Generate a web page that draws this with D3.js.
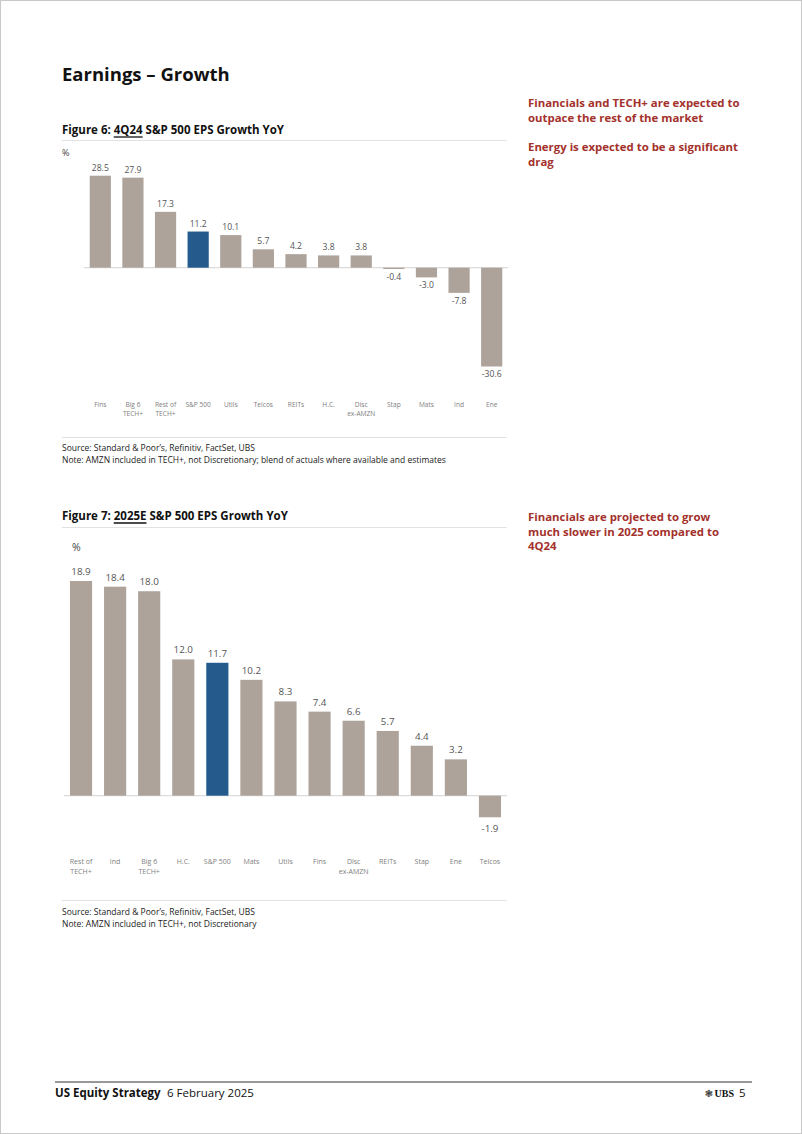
<!DOCTYPE html>
<html lang="en">
<head>
<meta charset="utf-8" />
<title>Earnings - Growth</title>
<style>
	* {margin: 0; padding: 0;}
	body {background: #fff; width: 802px; height: 1134px; overflow: hidden;}
	svg {display: block;}
	text {font-family: "Open Sans", "Noto Sans", Helvetica, Arial, sans-serif;}
</style>
<script src="https://cdn.jsdelivr.net/npm/d3@7"></script>
</head>
<body>
<div id="viz"></div>
<script>

// figure 6 : 4Q24
var cats6 = ["Fins", "Big 6\nTECH+", "Rest of\nTECH+", "S&P 500", "Utils", "Telcos", "REITs", "H.C.", "Disc\nex-AMZN", "Stap", "Mats", "Ind", "Ene"];
var vals6 = [28.5, 27.9, 17.3, 11.2, 10.1, 5.7, 4.2, 3.8, 3.8, -0.4, -3.0, -7.8, -30.6];

// figure 7 : 2025E
var cats7 = ["Rest of\nTECH+", "Ind", "Big 6\nTECH+", "H.C.", "S&P 500", "Mats", "Utils", "Fins", "Disc\nex-AMZN", "REITs", "Stap", "Ene", "Telcos"];
var vals7 = [18.9, 18.4, 18.0, 12.0, 11.7, 10.2, 8.3, 7.4, 6.6, 5.7, 4.4, 3.2, -1.9];

var grey = "#ada39b", blue = "#245a8c", red = "#a3312c";

var w = 802, h = 1134;
var svg = d3.select("#viz").append("svg").attr("width", w).attr("height", h);

svg.append("rect").attr("x", 0.5).attr("y", 0.5).attr("width", w - 1).attr("height", h - 1)
	.style("fill", "none").style("stroke", "#c8c8c8");

svg.append("text").attr("x", 62).attr("y", 81).text("Earnings \u2013 Growth")
	.style("font-size", "18.5px").style("font-weight", "bold").style("fill", "#111");

// side notes
function notes(lines, x, y0, step) {
	lines.forEach(function(l, i) {
		svg.append("text").attr("x", x).attr("y", y0 + i * step).text(l)
			.style("font-size", "11.4px").style("font-weight", "bold").style("fill", red);
	});
}
notes(["Financials and TECH+ are expected to", "outpace the rest of the market"], 528, 107, 14.5);
notes(["Energy is expected to be a significant", "drag"], 528, 151, 14.5);
notes(["Financials are projected to grow", "much slower in 2025 compared to", "4Q24"], 528, 521, 14.5);

function figTitle(y, num, u, rest) {
	var t = svg.append("text").attr("x", 62).attr("y", y)
		.style("font-size", "11.5px").style("font-weight", "bold").style("fill", "#111");
	t.append("tspan").text("Figure " + num + ": ");
	var us = t.append("tspan").text(u);
	t.append("tspan").text(rest);
	// underline the period
	var bb = us.node().getComputedTextLength();
	var start = t.node().getSubStringLength(0, ("Figure " + num + ": ").length);
	svg.append("line").attr("x1", 62 + start).attr("x2", 62 + start + bb)
		.attr("y1", y + 3).attr("y2", y + 3).style("stroke", "#111").style("stroke-width", 1.3);
}

function rule(y) {
	svg.append("line").attr("x1", 62).attr("x2", 507).attr("y1", y).attr("y2", y)
		.style("stroke", "#e2e2e2").style("stroke-width", 1);
}

function barChart(o) {
	var x = d3.scaleBand().domain(o.cats).range([o.x0, o.x1]).paddingInner(0.35).paddingOuter(0.175);
	var y = d3.scaleLinear().domain([0, o.vMax]).range([o.base, o.top]);
	var g = svg.append("g");

	g.append("line").attr("x1", o.x0).attr("x2", o.x1).attr("y1", o.base).attr("y2", o.base)
		.style("stroke", "#dcdcdc").style("stroke-width", 1.3);

	g.selectAll("rect.bar").data(o.vals).enter().append("rect")
		.attr("x", function(d, i) { return x(o.cats[i]); })
		.attr("y", function(d) { return Math.min(y(d), y(0)); })
		.attr("width", x.bandwidth())
		.attr("height", function(d) { return Math.abs(y(d) - y(0)); })
		.style("fill", function(d, i) { return o.cats[i] == "S&P 500" ? blue : grey; });

	g.selectAll("text.val").data(o.vals).enter().append("text")
		.attr("x", function(d, i) { return x(o.cats[i]) + x.bandwidth() / 2; })
		.attr("y", function(d) { return d >= 0 ? y(d) - o.upGap : y(d) + o.downGap; })
		.attr("text-anchor", "middle")
		.text(function(d) { return d.toFixed(1); })
		.style("font-size", o.valSize).style("fill", "#555");

	o.cats.forEach(function(c, i) {
		var t = g.append("text").attr("text-anchor", "middle")
			.attr("x", x(c) + x.bandwidth() / 2).attr("y", o.labY)
			.style("font-size", o.labSize).style("fill", "#808080");
		c.split("\n").forEach(function(p, j) {
			t.append("tspan").attr("x", x(c) + x.bandwidth() / 2).attr("dy", j ? o.labStep : 0).text(p);
		});
	});

	g.append("text").attr("x", o.pctX).attr("y", o.pctY).text("%")
		.style("font-size", o.pctSize).style("fill", "#444");
}

// figure 6
figTitle(134, 6, "4Q24", " S&P 500 EPS Growth YoY");
rule(140.5);
barChart({cats: cats6, vals: vals6, x0: 84, x1: 508, base: 267.7, top: 175.7, vMax: 28.5,
	upGap: 5, downGap: 11, valSize: "8.6px", labY: 407, labStep: 9, labSize: "6.6px",
	pctX: 62, pctY: 156, pctSize: "9px"});
rule(437.5);
svg.append("text").attr("x", 62).attr("y", 451).text("Source: Standard & Poor\u2019s, Refinitiv, FactSet, UBS")
	.style("font-size", "8.5px").style("fill", "#222");
svg.append("text").attr("x", 62).attr("y", 463).text("Note: AMZN included in TECH+, not Discretionary; blend of actuals where available and estimates")
	.style("font-size", "8.5px").style("fill", "#222");

// figure 7
figTitle(520, 7, "2025E", " S&P 500 EPS Growth YoY");
rule(527.5);
barChart({cats: cats7, vals: vals7, x0: 64, x1: 507, base: 795.7, top: 581, vMax: 18.9,
	upGap: 6, downGap: 15, valSize: "9.8px", labY: 864, labStep: 9.5, labSize: "7px",
	pctX: 72, pctY: 551, pctSize: "10.5px"});
rule(900.5);
svg.append("text").attr("x", 62).attr("y", 915).text("Source: Standard & Poor\u2019s, Refinitiv, FactSet, UBS")
	.style("font-size", "8.5px").style("fill", "#222");
svg.append("text").attr("x", 62).attr("y", 927).text("Note: AMZN included in TECH+, not Discretionary")
	.style("font-size", "8.5px").style("fill", "#222");

// footer
svg.append("line").attr("x1", 55).attr("x2", 752).attr("y1", 1082).attr("y2", 1082)
	.style("stroke", "#333").style("stroke-width", 1);
svg.append("text").attr("x", 55).attr("y", 1097).text("US Equity Strategy")
	.style("font-size", "11.5px").style("font-weight", "bold").style("fill", "#111");
svg.append("text").attr("x", 167).attr("y", 1097).text("6 February 2025")
	.style("font-size", "11.5px").style("fill", "#111");
svg.append("text").attr("x", 713).attr("y", 1097).attr("text-anchor", "end").text("\u2743")
	.style("font-family", "'DejaVu Sans'").style("font-size", "10px").style("fill", "#333");
svg.append("text").attr("x", 734).attr("y", 1097).attr("text-anchor", "end").text("UBS")
	.style("font-family", "'Liberation Serif', serif").style("font-size", "10px").style("font-weight", "bold").style("fill", "#111");
svg.append("text").attr("x", 739).attr("y", 1097).text("5").style("font-size", "11.5px").style("fill", "#111");
</script>
</body>
</html>
